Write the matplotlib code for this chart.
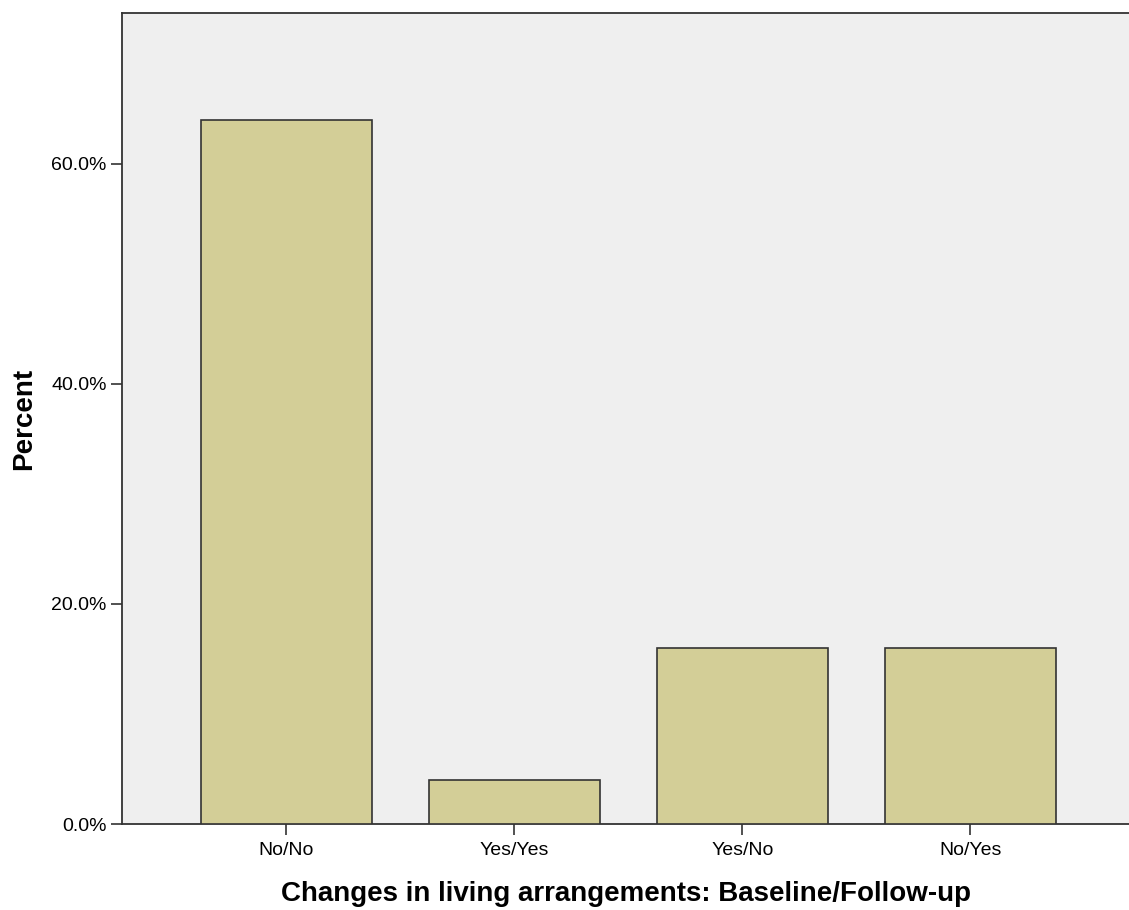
import matplotlib.pyplot as plt
from matplotlib.ticker import FuncFormatter

categories = ["No/No", "Yes/Yes", "Yes/No", "No/Yes"]
percents = [64.0, 4.0, 16.0, 16.0]
yticks = [0, 20, 40, 60]

plt.rcParams["font.family"] = ["Liberation Sans", "DejaVu Sans"]

fig = plt.figure(figsize=(11.29, 9.1), dpi=100)
ax = fig.add_axes([0.1081, 0.0945, 0.8919, 0.8912])
ax.set_facecolor("#efefef")

x = range(len(categories))
ax.bar(x, percents, width=0.75, color="#d3ce97", edgecolor="#333333", linewidth=1.2, zorder=3)

ax.set_xlim(-0.72, 3.695)
ax.set_ylim(0, 73.7)
ax.set_xticks(list(x))
ax.set_xticklabels(categories, fontsize=14)
ax.set_yticks(yticks)
ax.yaxis.set_major_formatter(FuncFormatter(lambda v, p: f"{v:.1f}%"))
ax.tick_params(axis="y", labelsize=14, length=8, width=1.2, color="#333333", pad=3)
ax.tick_params(axis="x", length=8, width=1.2, color="#333333", pad=5)

ax.spines["right"].set_visible(False)
for s in ["left", "top", "bottom"]:
    ax.spines[s].set_color("#333333")
    ax.spines[s].set_linewidth(1.3)

ax.set_xlabel("Changes in living arrangements: Baseline/Follow-up", fontsize=20, fontweight="bold", labelpad=16)
ax.set_ylabel("Percent", fontsize=20, fontweight="bold", labelpad=10)

fig.savefig("out.png", dpi=100)
